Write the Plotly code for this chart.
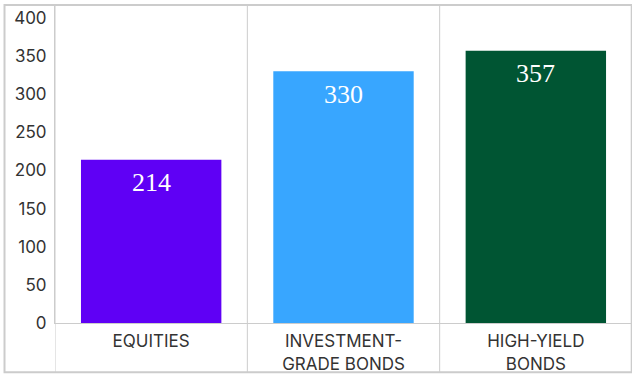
import plotly.graph_objects as go

categories = ["EQUITIES", "INVESTMENT-<br>GRADE BONDS", "HIGH-YIELD<br>BONDS"]
values = [214, 330, 357]
labels = ["214", "330", "357"]
colors = ["#5f00f5", "#38a6ff", "#005533"]

fig = go.Figure(go.Bar(
    x=categories, y=values,
    marker=dict(color=colors, line=dict(width=0)),
    width=0.73, hoverinfo="skip",
))

annotations = [
    dict(x=c, y=v, text=t, showarrow=False, xref="x", yref="y",
         yanchor="middle", yshift=-23,
         font=dict(family="Liberation Serif", size=26, color="white"))
    for c, v, t in zip(categories, values, labels)
]

border = "#cccccc"
shapes = []
for xb in [-0.5, 0.5, 1.5, 2.5]:
    shapes.append(dict(type="line", xref="x", yref="paper", x0=xb, x1=xb,
                       y0=-0.155, y1=1, line=dict(color=border, width=1)))
shapes.append(dict(type="rect", xref="paper", yref="paper", x0=-0.0875, x1=0.9995,
                   y0=-0.155, y1=1.0, line=dict(color=border, width=2), layer="below"))

fig.update_layout(
    width=632, height=375,
    margin=dict(l=55, r=0, t=5, b=52),
    plot_bgcolor="white", paper_bgcolor="white",
    showlegend=False,
    shapes=shapes, annotations=annotations,
    font=dict(family="Inter", size=17, color="#333333"),
    xaxis=dict(showgrid=False, showline=True, linecolor=border, linewidth=1,
               ticks="", ticklabelstandoff=3,
               tickfont=dict(size=17, color="#333333"), range=[-0.5, 2.5]),
    yaxis=dict(range=[0, 417], tickvals=[0, 50, 100, 150, 200, 250, 300, 350, 400],
               showgrid=False, zeroline=False, showline=True, linecolor=border,
               linewidth=1, ticks="", ticklabelstandoff=4,
               tickfont=dict(size=17, color="#333333")),
)

fig.write_html("out.html")
